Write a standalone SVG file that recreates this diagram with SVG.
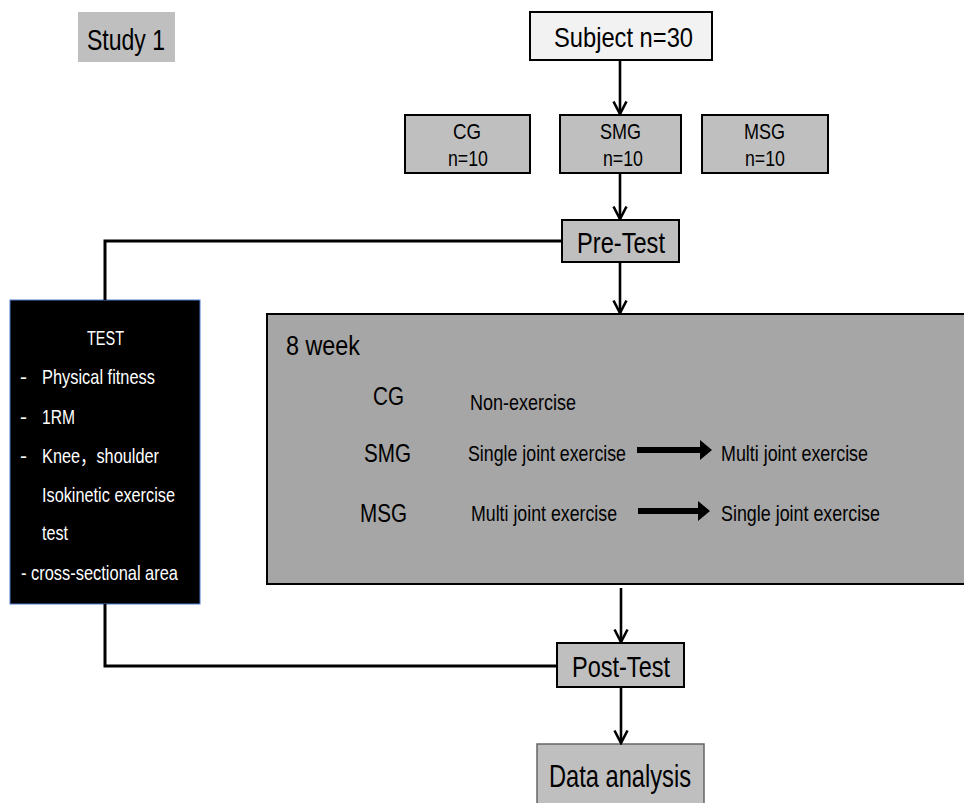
<svg xmlns="http://www.w3.org/2000/svg" width="964" height="803" viewBox="0 0 964 803">
<defs>
<marker id="vhead" markerUnits="userSpaceOnUse" markerWidth="16" markerHeight="16" viewBox="0 0 16 16" refX="14" refY="8" orient="auto">
<path d="M1.5,1.5 L14,8 L1.5,14.5" fill="none" stroke="#000" stroke-width="2.6"/>
</marker>
<style>
text{font-family:"Liberation Sans Narrow","Liberation Sans",Arial,"Noto Sans CJK SC",sans-serif;fill:#000;}
.w{fill:#fff;}
.box{fill:#bfbfbf;stroke:#000;stroke-width:2;}
.conn{fill:none;stroke:#000;stroke-width:3;}
.arr{fill:none;stroke:#000;stroke-width:2.6;marker-end:url(#vhead);}
.blk{fill:#000;stroke:none;}
</style>
</defs>
<rect width="964" height="803" fill="#fff"/>

<g id="study1">
<rect x="78" y="12" width="97" height="50" fill="#bfbfbf"/>
<text x="87" y="50" font-size="30" textLength="78" lengthAdjust="spacingAndGlyphs">Study 1</text>
</g>

<g id="subject">
<rect x="530" y="12" width="182" height="48" fill="#f2f2f2" stroke="#000" stroke-width="2"/>
<text x="554" y="47" font-size="28" textLength="139" lengthAdjust="spacingAndGlyphs">Subject n=30</text>
</g>

<g id="cg">
<rect class="box" x="405" y="115" width="125" height="58"/>
<text x="453" y="139" font-size="22" textLength="28" lengthAdjust="spacingAndGlyphs">CG</text>
<text x="448" y="166" font-size="22" textLength="40" lengthAdjust="spacingAndGlyphs">n=10</text>
</g>

<g id="smg">
<rect class="box" x="560" y="115" width="121" height="58"/>
<text x="600" y="139" font-size="22" textLength="41" lengthAdjust="spacingAndGlyphs">SMG</text>
<text x="603" y="166" font-size="22" textLength="40" lengthAdjust="spacingAndGlyphs">n=10</text>
</g>

<g id="msg">
<rect class="box" x="702" y="115" width="126" height="58"/>
<text x="744" y="139" font-size="22" textLength="41" lengthAdjust="spacingAndGlyphs">MSG</text>
<text x="745" y="166" font-size="22" textLength="40" lengthAdjust="spacingAndGlyphs">n=10</text>
</g>

<g id="pretest">
<rect class="box" x="562" y="220" width="117" height="42"/>
<text x="577" y="253" font-size="29" textLength="88" lengthAdjust="spacingAndGlyphs">Pre-Test</text>
</g>

<g id="test">
<rect x="10" y="300" width="190" height="304" fill="#000" stroke="#4f7fd0" stroke-width="1"/>
<text class="w" x="87" y="345" font-size="20" textLength="37" lengthAdjust="spacingAndGlyphs">TEST</text>
<text class="w" x="20" y="384" font-size="21">-</text>
<text class="w" x="42" y="384" font-size="21" textLength="113" lengthAdjust="spacingAndGlyphs">Physical fitness</text>
<text class="w" x="20" y="424" font-size="21">-</text>
<text class="w" x="42" y="424" font-size="21" textLength="33" lengthAdjust="spacingAndGlyphs">1RM</text>
<text class="w" x="20" y="463" font-size="21">-</text>
<text class="w" x="42" y="463" font-size="21" textLength="117" lengthAdjust="spacingAndGlyphs">Knee，shoulder</text>
<text class="w" x="42" y="502" font-size="21" textLength="133" lengthAdjust="spacingAndGlyphs">Isokinetic exercise</text>
<text class="w" x="42" y="540" font-size="21" textLength="26" lengthAdjust="spacingAndGlyphs">test</text>
<text class="w" x="21" y="580" font-size="21" textLength="157" lengthAdjust="spacingAndGlyphs">- cross-sectional area</text>
</g>

<g id="week8">
<rect x="267" y="314" width="698" height="270" fill="#a6a6a6" stroke="#000" stroke-width="2"/>
<text x="286" y="355" font-size="28" textLength="74" lengthAdjust="spacingAndGlyphs">8 week</text>
<text x="373" y="405" font-size="25" textLength="31" lengthAdjust="spacingAndGlyphs">CG</text>
<text x="470" y="410" font-size="22" textLength="106" lengthAdjust="spacingAndGlyphs">Non-exercise</text>
<text x="364" y="462" font-size="25" textLength="47" lengthAdjust="spacingAndGlyphs">SMG</text>
<text x="468" y="461" font-size="22" textLength="158" lengthAdjust="spacingAndGlyphs">Single joint exercise</text>
<text x="721" y="461" font-size="22" textLength="147" lengthAdjust="spacingAndGlyphs">Multi joint exercise</text>
<text x="360" y="522" font-size="25" textLength="47" lengthAdjust="spacingAndGlyphs">MSG</text>
<text x="471" y="521" font-size="22" textLength="146" lengthAdjust="spacingAndGlyphs">Multi joint exercise</text>
<text x="721" y="521" font-size="22" textLength="159" lengthAdjust="spacingAndGlyphs">Single joint exercise</text>
<polygon class="blk" points="637,447 700,447 700,440 712,450 700,460 700,453 637,453"/>
<polygon class="blk" points="638,508 698,508 698,501 710,511 698,521 698,514 638,514"/>
</g>

<g id="posttest">
<rect class="box" x="557" y="643" width="127" height="44"/>
<text x="572" y="677" font-size="30" textLength="98" lengthAdjust="spacingAndGlyphs">Post-Test</text>
</g>

<g id="data">
<rect x="537" y="744" width="167" height="70" fill="#bfbfbf" stroke="#666" stroke-width="1.5"/>
<text x="549" y="787" font-size="32" textLength="142" lengthAdjust="spacingAndGlyphs">Data analysis</text>
</g>

<g id="connectors">
<line class="arr" x1="620" y1="60" x2="620" y2="114"/>
<line class="arr" x1="620" y1="173" x2="620" y2="219"/>
<polyline class="conn" points="562,241 105,241 105,300"/>
<line class="arr" x1="620" y1="262" x2="620" y2="313"/>
<line class="arr" x1="621" y1="588" x2="621" y2="642"/>
<polyline class="conn" points="105,604 105,666 557,666"/>
<line class="arr" x1="621" y1="687" x2="621" y2="743"/>
</g>
</svg>
